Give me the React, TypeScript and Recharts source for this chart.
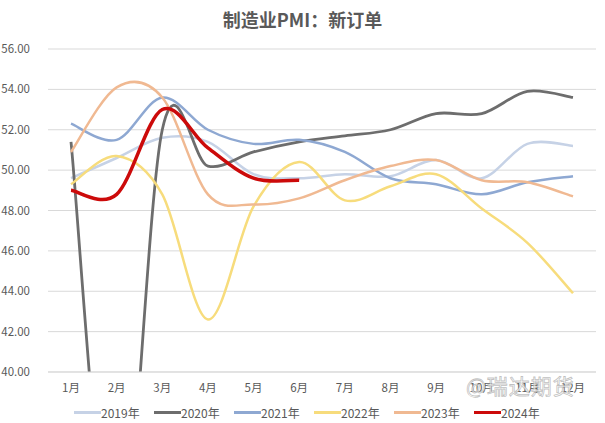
import { LineChart, Line, XAxis, YAxis, CartesianGrid } from 'recharts';

const months = ['1月', '2月', '3月', '4月', '5月', '6月', '7月', '8月', '9月', '10月', '11月', '12月'];

const y2019 = [49.6, 50.6, 51.6, 51.4, 49.8, 49.6, 49.8, 49.7, 50.5, 49.6, 51.3, 51.2];
const y2020 = [51.4, 29.3, 52.0, 50.2, 50.9, 51.4, 51.7, 52.0, 52.8, 52.8, 53.9, 53.6];
const y2021 = [52.3, 51.5, 53.6, 52.0, 51.3, 51.5, 50.9, 49.6, 49.3, 48.8, 49.4, 49.7];
const y2022 = [49.3, 50.7, 48.8, 42.6, 48.2, 50.4, 48.5, 49.2, 49.8, 48.1, 46.4, 43.9];
const y2023 = [50.9, 54.1, 53.6, 48.8, 48.3, 48.6, 49.5, 50.2, 50.5, 49.5, 49.4, 48.7];
const y2024 = [49.0, 48.8, 53.0, 51.1, 49.6, 49.5];

const yTicks = [40, 42, 44, 46, 48, 50, 52, 54, 56];

const series = [
  { key: '2019年', values: y2019, color: '#c6d2e6', width: 2.5 },
  { key: '2020年', values: y2020, color: '#6d6d6d', width: 2.8 },
  { key: '2021年', values: y2021, color: '#8ea8d2', width: 2.5 },
  { key: '2022年', values: y2022, color: '#f7dc7c', width: 2.5 },
  { key: '2023年', values: y2023, color: '#f0b992', width: 2.5 },
  { key: '2024年', values: y2024, color: '#cc0a0a', width: 3.5 },
];

const data = months.map((m, i) => {
  const row: Record<string, string | number | null> = { month: m };
  series.forEach((s) => {
    row[s.key] = i < s.values.length ? s.values[i] : null;
  });
  return row;
});

// Excel-style smoothing (uniform Catmull-Rom as cubic beziers)
const smooth = (context: any) => {
  let pts: number[][] = [];
  return {
    areaStart() {},
    areaEnd() {},
    lineStart() {
      pts = [];
    },
    point(x: number, y: number) {
      pts.push([+x, +y]);
    },
    lineEnd() {
      if (!pts.length) return;
      context.moveTo(pts[0][0], pts[0][1]);
      for (let i = 0; i < pts.length - 1; i++) {
        const p0 = pts[i - 1] || pts[i];
        const p1 = pts[i];
        const p2 = pts[i + 1];
        const p3 = pts[i + 2] || pts[i + 1];
        context.bezierCurveTo(
          p1[0] + (p2[0] - p0[0]) / 6,
          p1[1] + (p2[1] - p0[1]) / 6,
          p2[0] - (p3[0] - p1[0]) / 6,
          p2[1] - (p3[1] - p1[1]) / 6,
          p2[0],
          p2[1],
        );
      }
    },
  };
};

const font = '"Noto Sans CJK SC", "Noto Sans", sans-serif';

const App = () => {
  return (
    <div style={{ position: 'absolute', left: 0, top: 0, width: 605, height: 423, background: '#fff', fontFamily: font }}>
      <div
        style={{
          position: 'absolute',
          top: 6,
          left: 0,
          width: 605,
          textAlign: 'center',
          fontSize: 18,
          fontWeight: 700,
          color: '#595959',
        }}
      >
        制造业PMI：新订单
      </div>
      <LineChart width={605} height={423} data={data} margin={{ top: 49, right: 9, left: 0, bottom: 26 }}>
        <CartesianGrid vertical={false} stroke="#d9d9d9" />
        <XAxis
          dataKey="month"
          axisLine={{ stroke: '#d9d9d9' }}
          tickLine={false}
          height={25}
          padding={{ left: 23, right: 23 }}
          tick={{ fill: '#595959', fontSize: 11.5, fontFamily: font }}
          tickMargin={6}
          interval={0}
        />
        <YAxis
          width={48}
          domain={[40, 56]}
          ticks={yTicks}
          allowDataOverflow
          axisLine={false}
          tickLine={false}
          tickFormatter={(v) => Number(v).toFixed(2)}
          tick={{ fill: '#595959', fontSize: 11.5, fontFamily: font }}
          tickMargin={12}
        />
        {series.map((s) => (
          <Line
            key={s.key}
            dataKey={s.key}
            type={smooth as any}
            stroke={s.color}
            strokeWidth={s.width}
            dot={false}
            isAnimationActive={false}
          />
        ))}
      </LineChart>
      <div
        style={{
          position: 'absolute',
          left: 466,
          top: 370,
          fontSize: 21,
          color: 'rgba(255,255,255,0.75)',
          WebkitTextStroke: '0.8px rgba(150,150,150,0.6)',
          letterSpacing: 1,
        }}
      >
        @瑞达期货
      </div>
      <div
        style={{
          position: 'absolute',
          top: 404,
          left: 74,
          display: 'flex',
          fontSize: 12,
          color: '#595959',
        }}
      >
        {series.map((s) => (
          <div key={s.key} style={{ display: 'flex', alignItems: 'center', width: 80 }}>
            <span style={{ display: 'inline-block', width: 27, height: 3, background: s.color }} />
            <span>{s.key}</span>
          </div>
        ))}
      </div>
    </div>
  );
};

export default App;
